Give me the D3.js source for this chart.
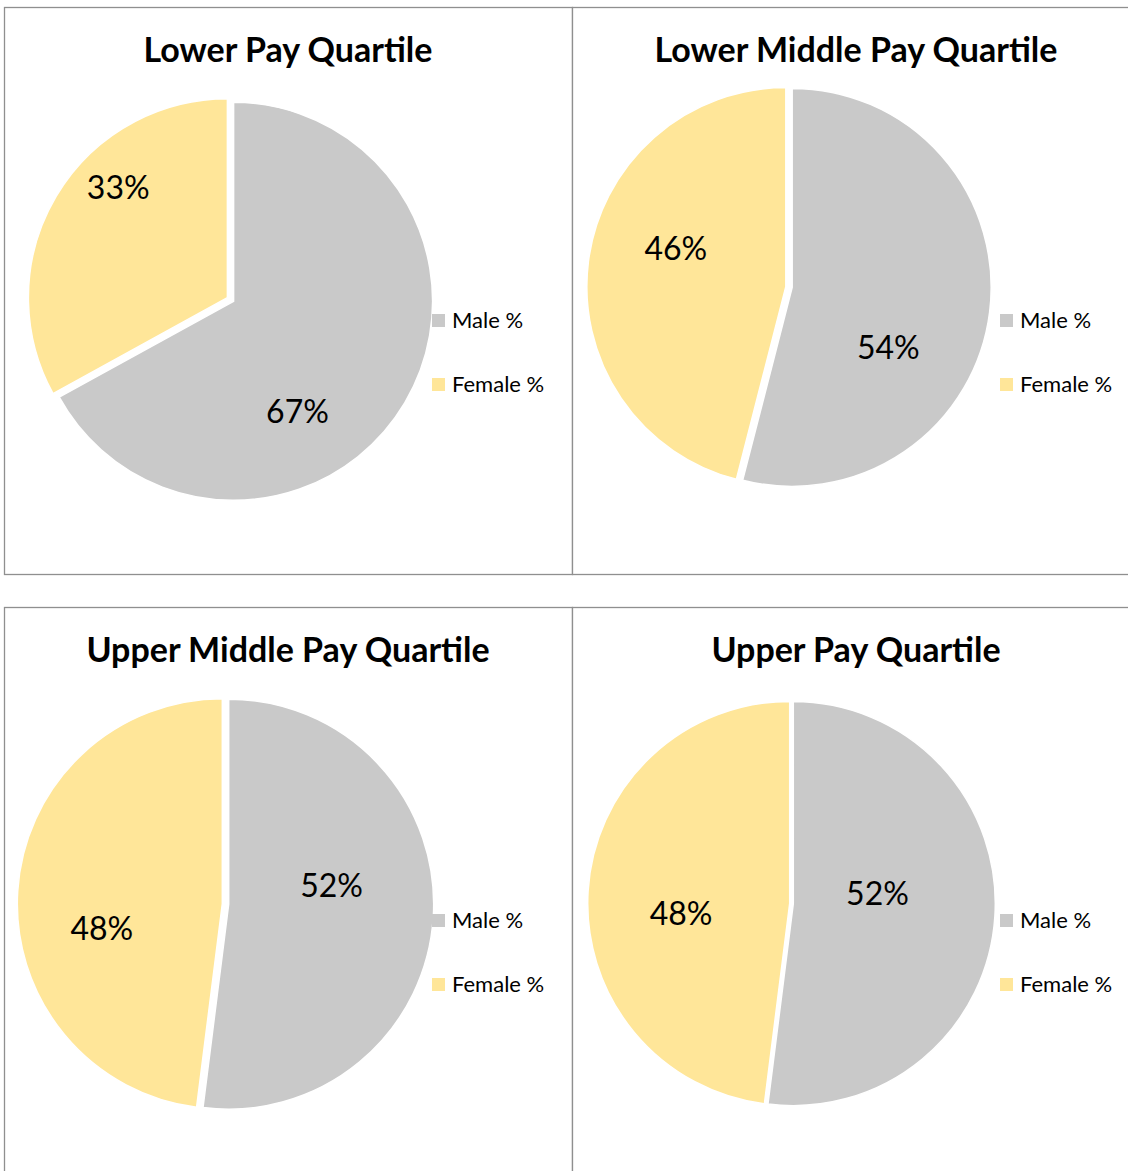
<!DOCTYPE html>
<html>
<head>
<meta charset="utf-8">
<script src="https://cdn.jsdelivr.net/npm/d3@7"></script>
<style>
  body { margin: 0; background: #fff; }
  svg { display: block; font-family: Lato, "Open Sans", sans-serif; }
</style>
</head>
<body>
<div id="chart"></div>
<script>
// data
const titles = ["Lower Pay Quartile", "Lower Middle Pay Quartile", "Upper Middle Pay Quartile", "Upper Pay Quartile"];
const groups = ["Male %", "Female %"];
const maleValues = [67, 54, 52, 52];
const femaleValues = [33, 46, 48, 48];

const colors = ["#c9c9c9", "#ffe699"];

// where each chart box sits, and where its pie sits inside the box
const panels = [
    { x: 4, y: 7, cx: 226.5, cy: 292.5, r: 199, explode: 3.6 },
    { x: 572, y: 7, cx: 217, cy: 280, r: 199, explode: 3.2 },
    { x: 4, y: 607, cx: 221.5, cy: 297, r: 205, explode: 3.2 },
    { x: 572, y: 607, cx: 219.5, cy: 296.5, r: 202, explode: 1.8 }
];
// label spot per slice: [angle in degrees clockwise from top, fraction of radius]
const labelSpots = [
    [[149.9, 0.64], [315.3, 0.78]],
    [[122, 0.57], [289.1, 0.585]],
    [[79.6, 0.51], [258.3, 0.6]],
    [[82.9, 0.42], [264.5, 0.54]]
];
const panelW = 568, panelH = 567;

const svg = d3.select("#chart")
    .append("svg")
    .attr("width", 1128)
    .attr("height", 1171);

const pie = d3.pie().sort(null).value(d => d);

titles.forEach((title, i) => {
    const p = panels[i];
    const g = svg.append("g").attr("transform", `translate(${p.x}, ${p.y})`);

    g.append("rect")
        .attr("x", 0.5)
        .attr("y", 0.5)
        .attr("width", panelW)
        .attr("height", panelH)
        .attr("fill", "#fff")
        .attr("stroke", "#8f8f8f")
        .attr("stroke-width", 1.3);

    g.append("text")
        .attr("x", panelW / 2)
        .attr("y", 55)
        .attr("text-anchor", "middle")
        .attr("font-size", 34)
        .attr("font-weight", "bold")
        .attr("fill", "#000")
        .text(title);

    const arc = d3.arc().innerRadius(0).outerRadius(p.r);
    const slices = pie([maleValues[i], femaleValues[i]]);

    const pieG = g.append("g").attr("transform", `translate(${p.cx}, ${p.cy})`);

    const arcs = pieG.selectAll(".arc")
        .data(slices)
        .enter()
        .append("g")
        .attr("class", "arc")
        .attr("transform", d => {
            const mid = (d.startAngle + d.endAngle) / 2;
            return `translate(${Math.sin(mid) * p.explode}, ${-Math.cos(mid) * p.explode})`;
        });

    arcs.append("path")
        .attr("d", arc)
        .attr("fill", (d, k) => colors[k])
        .attr("stroke", "#fff")
        .attr("stroke-width", 1.5);

    // percentage labels
    arcs.append("text")
        .attr("transform", (d, k) => {
            const [deg, f] = labelSpots[i][k];
            const a = deg * Math.PI / 180;
            return `translate(${Math.sin(a) * p.r * f}, ${-Math.cos(a) * p.r * f})`;
        })
        .attr("text-anchor", "middle")
        .attr("dy", "0.36em")
        .attr("font-size", 32)
        .attr("fill", "#000")
        .text(d => `${d.data}%`);

    // legend
    const legend = g.selectAll(".legend")
        .data(groups)
        .enter()
        .append("g")
        .attr("class", "legend")
        .attr("transform", (d, k) => `translate(428, ${307 + k * 64})`);

    legend.append("rect")
        .attr("width", 13)
        .attr("height", 13)
        .attr("fill", (d, k) => colors[k]);

    legend.append("text")
        .attr("x", 20)
        .attr("y", 6.5)
        .attr("dy", "0.36em")
        .attr("font-size", 22)
        .attr("fill", "#000")
        .text(d => d);
});
</script>
</body>
</html>
